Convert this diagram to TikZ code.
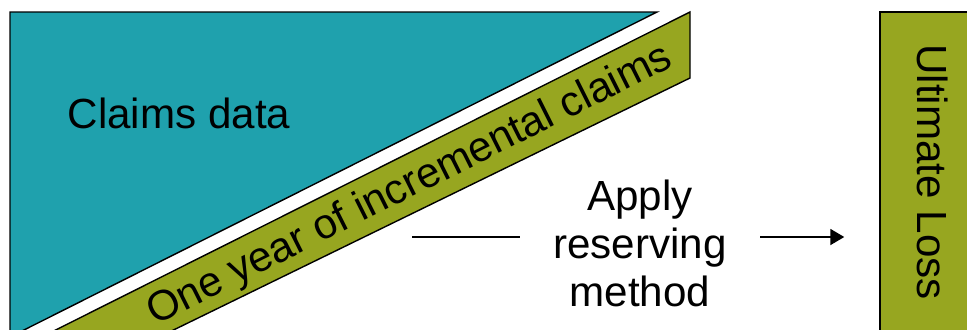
\documentclass[tikz,border=0pt]{standalone}
\usepackage{fontspec}
\setmainfont{Liberation Sans}
\usetikzlibrary{positioning}
\usetikzlibrary{arrows.meta}

\definecolor{claimteal}{RGB}{31,161,173}
\definecolor{bandgreen}{RGB}{151,166,32}

\begin{document}
\begin{tikzpicture}[x=0.02cm, y=-0.02cm,
		txt/.style={font=\fontsize{24}{27.3}\selectfont, inner sep=0pt},
		outline/.style={draw=black, line width=0.8pt}]
		\useasboundingbox (0,0) rectangle (967,329);
		\clip (0,0) rectangle (967,329);
		\filldraw[outline, fill=claimteal] (10,12) -- (657,12) -- (10,337) -- cycle;
		\filldraw[outline, fill=bandgreen] (690,12) -- (690,78) -- (30,400) -- (-84,400) -- cycle;
		\node (claims) [txt] at (179,113) {Claims data};
		\node (year) [txt, rotate=26.6] at (410,186) {One year of incremental claims};
		\node (loss) [txt, outline, fill=bandgreen, rotate=-90, minimum width=6.4cm, minimum height=2.12cm] at (933,172) {Ultimate Loss};
		\node (apply) [txt, align=center, inner xsep=19pt] at (640,243) {Apply\\reserving\\method};
		\coordinate (tail) at (412,237);
		\draw[line width=1.4pt] (tail) -- (tail -| apply.west);
		\draw[-{Triangle[length=8pt,width=9pt]}, line width=1.4pt, shorten >=0.7cm] (tail -| apply.east) -- (tail -| loss.south);
\end{tikzpicture}
\end{document}
